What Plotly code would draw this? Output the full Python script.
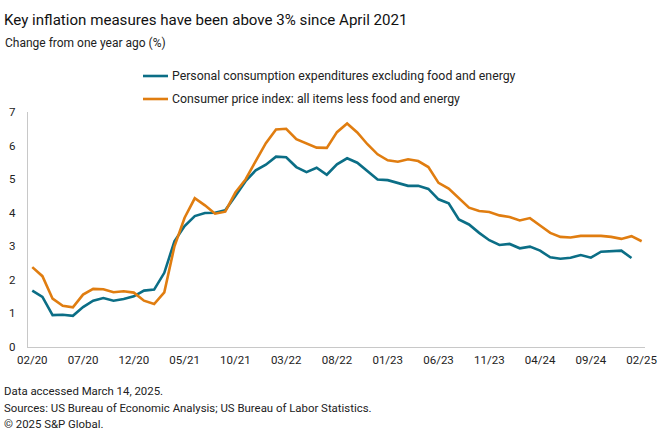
import plotly.graph_objects as go

months = ["02/20","03/20","04/20","05/20","06/20","07/20","08/20","09/20","10/20","11/20","12/20",
          "01/21","02/21","03/21","04/21","05/21","06/21","07/21","08/21","09/21","10/21","11/21","12/21",
          "01/22","02/22","03/22","04/22","05/22","06/22","07/22","08/22","09/22","10/22","11/22","12/22",
          "01/23","02/23","03/23","04/23","05/23","06/23","07/23","08/23","09/23","10/23","11/23","12/23",
          "01/24","02/24","03/24","04/24","05/24","06/24","07/24","08/24","09/24","10/24","11/24","12/24",
          "01/25","02/25"]

pce = [1.68,1.49,0.95,0.96,0.93,1.19,1.38,1.46,1.38,1.43,1.51,
       1.68,1.71,2.21,3.15,3.60,3.90,3.99,4.00,4.07,4.50,4.94,5.26,
       5.43,5.67,5.65,5.36,5.21,5.34,5.13,5.44,5.62,5.49,5.24,4.99,
       4.97,4.89,4.80,4.80,4.71,4.40,4.28,3.80,3.65,3.40,3.18,3.04,
       3.07,2.94,2.99,2.87,2.67,2.63,2.66,2.74,2.66,2.84,2.85,2.87,
       2.65]

cpi = [2.38,2.11,1.44,1.23,1.18,1.56,1.73,1.72,1.63,1.66,1.62,
       1.38,1.28,1.63,3.00,3.85,4.43,4.22,3.97,4.03,4.60,4.99,5.54,
       6.07,6.48,6.50,6.19,6.06,5.94,5.93,6.40,6.66,6.39,6.04,5.74,
       5.56,5.52,5.59,5.54,5.36,4.89,4.72,4.42,4.15,4.05,4.02,3.92,
       3.87,3.77,3.84,3.62,3.40,3.28,3.26,3.31,3.31,3.31,3.28,3.22,
       3.30,3.15]

tick_labels = ["02/20","07/20","12/20","05/21","10/21","03/22","08/22","01/23","06/23","11/23","04/24","09/24","02/25"]
y_ticks = [0,1,2,3,4,5,6,7]

names = ["Personal consumption expenditures excluding food and energy",
         "Consumer price index: all items less food and energy"]
colors = ["#0b6e86", "#e07d10"]

FONT = "Roboto"
TXT = "#222222"
W, H = 660, 440
ML, MR, MT, MB = 28, 15, 112, 93
PW, PH = W - ML - MR, H - MT - MB

def px_x(px):
    return (px - ML) / PW

def px_y(py):
    return (H - MB - py) / PH

fig = go.Figure()
fig.add_trace(go.Scatter(x=months[:len(pce)], y=pce, mode="lines", name=names[0],
                         line=dict(color=colors[0], width=2.6), showlegend=False))
fig.add_trace(go.Scatter(x=months, y=cpi, mode="lines", name=names[1],
                         line=dict(color=colors[1], width=2.6), showlegend=False))

fig.update_layout(
    width=W, height=H,
    margin=dict(l=ML, r=MR, t=MT, b=MB),
    paper_bgcolor="white", plot_bgcolor="white",
    font=dict(family=FONT, size=11, color=TXT),
    title=dict(text="Key inflation measures have been above 3% since April 2021",
               xref="container", yref="container",
               x=4 / W, xanchor="left", y=1 - 20 / H, yanchor="middle",
               font=dict(family=FONT, size=15.1, color="#111111")),
)

fig.update_xaxes(type="category", categoryorder="array", categoryarray=months,
                 tickmode="array", tickvals=tick_labels, ticktext=tick_labels,
                 range=[-0.42, 60.33], showline=True, linecolor="#c8c8c8", linewidth=1.3,
                 showgrid=False, ticks="", automargin=False, ticklabelstandoff=2,
                 tickfont=dict(size=11.5, color=TXT))
fig.update_yaxes(range=[0, 7], tickvals=y_ticks, showline=True, linecolor="#c8c8c8",
                 linewidth=1.3, showgrid=False, zeroline=False, ticks="", automargin=False,
                 ticklabelstandoff=9, tickfont=dict(size=11.5, color=TXT))

fig.add_annotation(text="Change from one year ago (%)", xref="paper", yref="paper",
                   x=px_x(3), y=px_y(43), xanchor="left", yanchor="middle", showarrow=False,
                   font=dict(size=12, color=TXT))

# legend (drawn manually to match layout)
for i, (nm, col) in enumerate(zip(names, colors)):
    yy = px_y(76 + 23 * i)
    fig.add_shape(type="line", xref="paper", yref="paper", x0=px_x(143), x1=px_x(168),
                  y0=yy, y1=yy, line=dict(color=col, width=2.6))
    fig.add_annotation(text=nm, xref="paper", yref="paper", x=px_x(170), y=yy,
                       xanchor="left", yanchor="middle", showarrow=False,
                       font=dict(size=12.3, color=TXT))

foot = ["Data accessed March 14, 2025.",
        "Sources: US Bureau of Economic Analysis; US Bureau of Labor Statistics.",
        "© 2025 S&P Global."]
for i, t in enumerate(foot):
    fig.add_annotation(text=t, xref="paper", yref="paper", x=px_x(2),
                       y=px_y(391 + 16.5 * i), xanchor="left", yanchor="middle",
                       showarrow=False, font=dict(size=11.4, color=TXT))

fig.write_html("out.html", config={"displayModeBar": False},
               post_script="document.body.style.margin='0';")
